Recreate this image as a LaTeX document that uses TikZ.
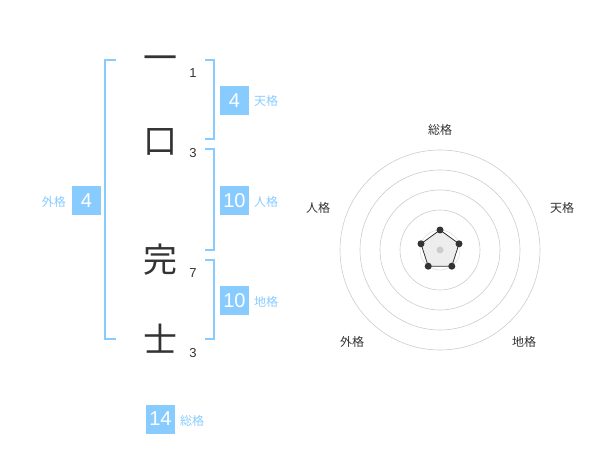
\documentclass[tikz,border=0pt]{standalone}
\usepackage{fontspec}
\setmainfont{Liberation Sans}
\newfontfamily\cjk{Noto Sans CJK JP}
\definecolor{kblue}{HTML}{88CCFF}
\definecolor{ktext}{HTML}{333333}
\definecolor{kgrid}{HTML}{CCCCCC}
\begin{document}
\begin{tikzpicture}[x=1pt,y=-1pt,
  kanji/.style={font=\cjk\fontsize{34}{34}\selectfont,text=ktext,inner sep=0,anchor=base},
  strokes/.style={font=\fontsize{13}{13}\selectfont,text=ktext,inner sep=0},
  brk/.style={draw=kblue,line width=2pt},
  valbox/.style={fill=kblue,text=white,minimum width=29pt,minimum height=29pt,inner sep=0,font=\fontsize{20}{20}\selectfont},
  kaku/.style={font=\cjk\fontsize{12}{12}\selectfont,text=kblue,inner sep=0},
  rlabel/.style={font=\cjk\fontsize{12}{12}\selectfont,text=ktext,inner sep=0},
  ring/.style={draw=kgrid,line width=0.6pt},
  vdot/.style={circle,fill=ktext,inner sep=0,minimum size=7pt}]
\useasboundingbox (0,0) rectangle (600,470);
% characters
\node[kanji] (c1) at (160,71) {一};
\node[kanji] (c2) at (160,154) {口};
\node[kanji] (c3) at (160,273) {完};
\node[kanji] (c4) at (160,353) {士};
\node[strokes] (s1) at (193,73) {1};
\node[strokes] (s2) at (193,153) {3};
\node[strokes] (s3) at (193,273) {7};
\node[strokes] (s4) at (193,353) {3};
% brackets
\draw[brk] (116,60) -- (105,60) -- (105,339) -- (116,339);
\draw[brk] (205,60) -- (214,60) -- (214,139) -- (205,139);
\draw[brk] (205,149) -- (214,149) -- (214,250) -- (205,250);
\draw[brk] (205,260) -- (214,260) -- (214,339) -- (205,339);
% value boxes
\node[valbox] (ten) at (234.5,100.5) {4};
\node[kaku,anchor=west] (tenl) at (254,101) {天格};
\node[valbox] (jin) at (234.5,200.5) {10};
\node[kaku,anchor=west] (jinl) at (254,202) {人格};
\node[valbox] (chi) at (234.5,300.5) {10};
\node[kaku,anchor=west] (chil) at (254,302) {地格};
\node[valbox] (gai) at (86.5,200.5) {4};
\node[kaku,anchor=east] (gail) at (66,202) {外格};
\node[valbox] (sou) at (160.5,419) {14};
\node[kaku,anchor=west] (soul) at (180,421) {総格};
% radar
\coordinate (rc) at (440,250);
\draw[draw=kgrid!60,line width=0.6pt] (rc) circle (20);
\foreach \r in {40,60,80,100} \draw[ring] (rc) circle (\r);
\coordinate (pA) at (440,230);
\coordinate (pB) at (459.0,243.8);
\coordinate (pC) at (451.8,266.2);
\coordinate (pD) at (428.2,266.2);
\coordinate (pE) at (421.0,243.8);
\fill[fill=black!7] (pA) -- (pB) -- (pC) -- (pD) -- (pE) -- cycle;
\fill[kgrid] (rc) circle (3.5);
\draw[ktext,line width=0.8pt] (pA) -- (pB) -- (pC) -- (pD) -- (pE) -- cycle;
\foreach \p in {pA,pB,pC,pD,pE} \node[vdot] at (\p) {};
\node[rlabel] (lsou) at (440,130) {総格};
\node[rlabel] (lten) at (562,208) {天格};
\node[rlabel] (ljin) at (318,208) {人格};
\node[rlabel] (lgai) at (352,342) {外格};
\node[rlabel] (lchi) at (524,342) {地格};
\end{tikzpicture}
\end{document}
